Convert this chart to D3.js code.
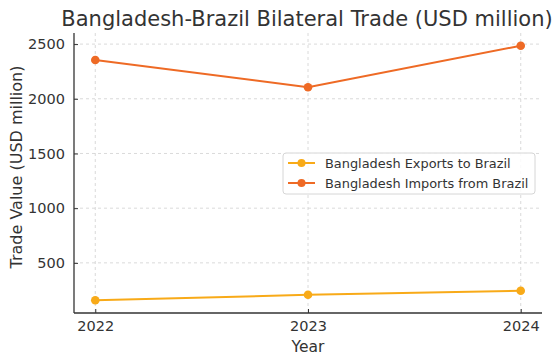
<!DOCTYPE html>
<html><head><meta charset="utf-8">
<script src="https://cdn.jsdelivr.net/npm/d3@7"></script>
<style>body{margin:0;background:#fff}svg{display:block;font-family:"DejaVu Sans",sans-serif}</style>
</head><body><svg id="c" width="560" height="364"></svg>
<script>
const years = [2022, 2023, 2024];
const exportsToBrazil = [158, 208, 245];
const importsFromBrazil = [2355, 2105, 2485];
const yTicks = [500, 1000, 1500, 2000, 2500];
const seriesNames = ["Bangladesh Exports to Brazil", "Bangladesh Imports from Brazil"];
const seriesColors = ["#F8AA18", "#EE6A25"];

const svg = d3.select("#c");
const L = 74, R = 542, T = 33, B = 313;
const pad = (a, b) => [a - (b - a) * 0.05, b + (b - a) * 0.05];
const x = d3.scaleLinear().domain(pad(2022, 2024)).range([L, R]);
const allV = exportsToBrazil.concat(importsFromBrazil);
const y = d3.scaleLinear().domain(pad(d3.min(allV), d3.max(allV))).range([B, T]);

// grid
const g = svg.append("g");
g.selectAll(".hg").data(yTicks).join("line")
  .attr("x1", L).attr("x2", R).attr("y1", d => y(d)).attr("y2", d => y(d))
  .attr("stroke", "#d0d0d0").attr("stroke-width", 0.8).attr("stroke-dasharray", "3,3");
g.selectAll(".vg").data(years).join("line")
  .attr("x1", d => x(d)).attr("x2", d => x(d)).attr("y1", T).attr("y2", B)
  .attr("stroke", "#d0d0d0").attr("stroke-width", 0.8).attr("stroke-dasharray", "3,3");

// axes
const ya = svg.append("g").attr("transform", `translate(${L},0)`)
  .call(d3.axisLeft(y).tickValues(yTicks).tickSize(-4).tickPadding(9).tickFormat(d3.format("d")));
const xa = svg.append("g").attr("transform", `translate(0,${B})`)
  .call(d3.axisBottom(x).tickValues(years).tickSize(-4).tickPadding(6).tickFormat(d3.format("d")));
[ya, xa].forEach(a => {
  a.select(".domain").remove();
  a.selectAll("line").attr("stroke", "#333");
  a.selectAll("text").attr("fill", "#333").style("font-size", "14.5px").style("font-family", "DejaVu Sans");
});
xa.selectAll("text").attr("dy", "0.85em");
svg.append("line").attr("x1", L).attr("x2", L).attr("y1", T).attr("y2", B).attr("stroke", "#333").attr("stroke-width", 1.3);
svg.append("line").attr("x1", L).attr("x2", R).attr("y1", B).attr("y2", B).attr("stroke", "#333").attr("stroke-width", 1.3);

// lines
const data = [exportsToBrazil, importsFromBrazil];
const line = d3.line().x((d, i) => x(years[i])).y(d => y(d));
data.forEach((s, k) => {
  svg.append("path").datum(s).attr("d", line).attr("fill", "none")
    .attr("stroke", seriesColors[k]).attr("stroke-width", 2);
  svg.selectAll(".p" + k).data(s).join("circle")
    .attr("cx", (d, i) => x(years[i])).attr("cy", d => y(d)).attr("r", 4.3)
    .attr("fill", seriesColors[k]);
});

// title & labels
svg.append("text").attr("x", 307).attr("y", 26).attr("text-anchor", "middle")
  .attr("fill", "#333").style("font-size", "21px").text("Bangladesh-Brazil Bilateral Trade (USD million)");
svg.append("text").attr("x", (L + R) / 2).attr("y", 352).attr("text-anchor", "middle")
  .attr("fill", "#333").style("font-size", "15.5px").text("Year");
svg.append("text").attr("transform", `translate(22,167) rotate(-90)`).attr("text-anchor", "middle")
  .attr("fill", "#333").style("font-size", "16px").text("Trade Value (USD million)");

// legend
const lg = svg.append("g");
lg.append("rect").attr("x", 283).attr("y", 153).attr("width", 252).attr("height", 41).attr("rx", 3)
  .attr("fill", "#fff").attr("fill-opacity", 0.85).attr("stroke", "#d6d6d6");
seriesNames.forEach((n, k) => {
  const yy = 163 + k * 20;
  lg.append("line").attr("x1", 288).attr("x2", 315).attr("y1", yy).attr("y2", yy)
    .attr("stroke", seriesColors[k]).attr("stroke-width", 2);
  lg.append("circle").attr("cx", 301.5).attr("cy", yy).attr("r", 4).attr("fill", seriesColors[k]);
  lg.append("text").attr("x", 325).attr("y", yy).attr("dy", "0.35em").attr("fill", "#333")
    .style("font-size", "12.9px").text(n);
});
</script></body></html>
